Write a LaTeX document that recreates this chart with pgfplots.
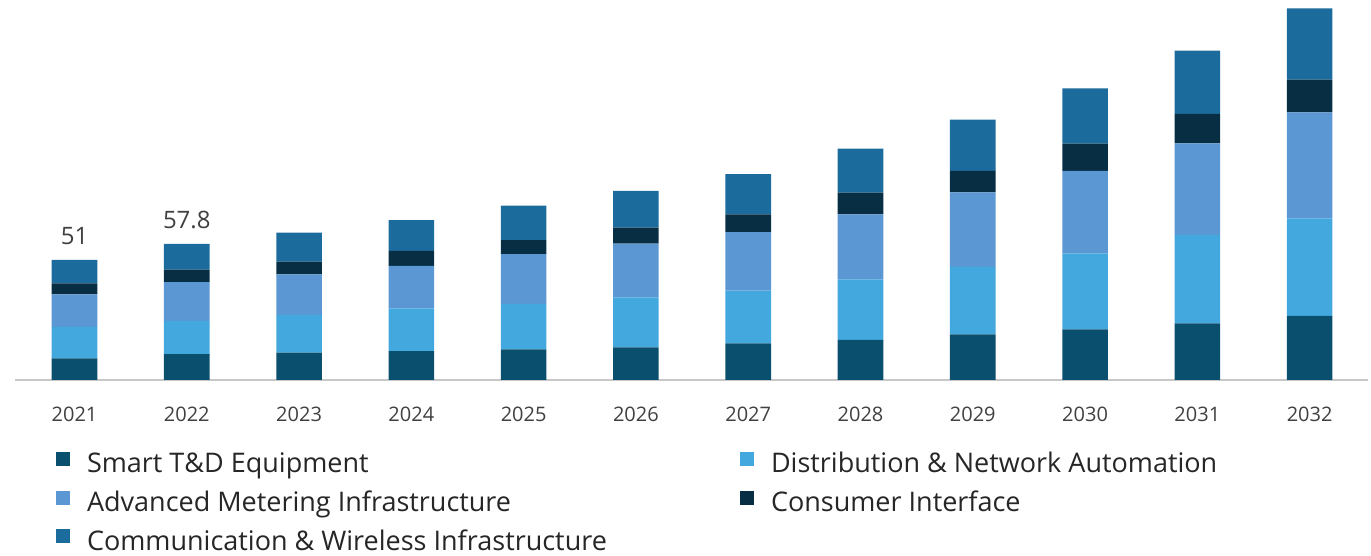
\documentclass[border=0pt]{standalone}
\usepackage{pgfplots}
\usepackage{pgfplotstable}
\pgfplotsset{compat=1.18}
\usepackage{fontspec}
\setmainfont{Open Sans}

\definecolor{smartTD}{HTML}{0B4F6E}
\definecolor{distnet}{HTML}{43A8DE}
\definecolor{metering}{HTML}{5B97D2}
\definecolor{consumer}{HTML}{072E42}
\definecolor{commwl}{HTML}{1B6B9C}
\definecolor{ticktext}{HTML}{404040}
\definecolor{legtext}{HTML}{262626}

% year index, segments from bottom to top
\pgfplotstableread{
x smart dna ami cons comm
0 9.2 13.4 13.8 4.7 9.9
1 11.0 14.1 16.5 5.3 10.9
2 11.6 16.0 17.3 5.4 12.3
3 12.3 18.1 18.1 6.4 13.0
4 13.0 19.3 21.2 5.9 14.7
5 13.9 21.2 22.9 6.8 15.6
6 15.6 22.4 24.8 7.6 17.1
7 17.0 25.8 27.6 9.2 18.7
8 19.4 28.7 31.6 9.2 21.8
9 21.5 32.3 35.1 11.6 23.4
10 24.1 37.5 39.0 12.5 26.9
11 27.2 41.5 45.0 14.0 30.2
}\marketdata

\pgfplotsset{
  sqlegend/.style={legend image code/.code={\fill[##1,draw=none] (0pt,0pt) rectangle (14pt,14pt);}},
}
\tikzset{
  total/.style={font=\fontsize{24}{28}\selectfont, text=ticktext, anchor=base, yshift=15.5pt},
}

\begin{document}
\begin{tikzpicture}
\useasboundingbox (0,0) rectangle (1371pt,556pt);
\begin{axis}[
    at={(15pt,176pt)}, anchor=south west,
    scale only axis,
    width=1353pt, height=376.5pt,
    ybar stacked,
    bar width=45.6pt,
    xmin=-0.53, xmax=11.52,
    ymin=0, ymax=160,
    axis x line=bottom,
    axis y line=none,
    x axis line style={-, draw=black!22, line width=1.3pt},
    xtick={0,...,11},
    xticklabels={2021,2022,2023,2024,2025,2026,2027,2028,2029,2030,2031,2032},
    major tick length=0pt,
    xticklabel style={font=\fontsize{20}{24}\selectfont, text=ticktext, anchor=base, yshift=-42pt},
    /pgf/number format/assume math mode=true,
    clip=false,
    legend columns=2,
    legend cell align=left,
    legend style={
        draw=none, fill=none, inner sep=0pt, outer sep=0pt,
        anchor=north west, at={(axis description cs:0.0303,-0.1910)},
        font=\fontsize{27}{32}\selectfont, text=legtext,
        nodes={inner sep=0pt, text height=20pt, text depth=6pt},
        row sep=11.6pt,
        /tikz/every odd column/.append style={column sep=17pt},
    },
]
\addplot[fill=smartTD, draw=none, sqlegend] table[x=x, y=smart] {\marketdata};
\addlegendentry{\makebox[653pt][l]{Smart T\&D Equipment}}
\addplot[fill=distnet, draw=none, sqlegend] table[x=x, y=dna] {\marketdata};
\addlegendentry{Distribution \& Network Automation}
\addplot[fill=metering, draw=none, sqlegend] table[x=x, y=ami] {\marketdata};
\addlegendentry{\makebox[653pt][l]{Advanced Metering Infrastructure}}
\addplot[fill=consumer, draw=none, sqlegend] table[x=x, y=cons] {\marketdata};
\addlegendentry{Consumer Interface}
\addplot[fill=commwl, draw=none, sqlegend] table[x=x, y=comm] {\marketdata};
\addlegendentry{\makebox[653pt][l]{Communication \& Wireless Infrastructure}}
% totals written above the first two bars
\node[total] at (axis cs:0,51) {51};
\node[total] at (axis cs:1,57.8) {57.8};
\end{axis}
\end{tikzpicture}
\end{document}
